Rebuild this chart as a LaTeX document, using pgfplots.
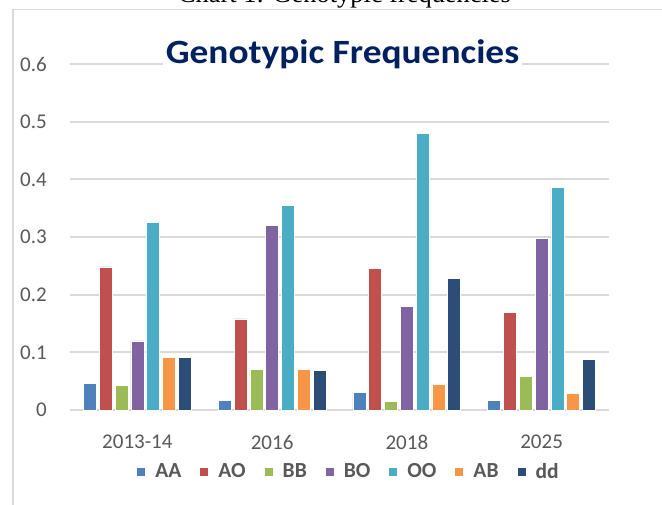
\documentclass[border=0pt]{standalone}
\usepackage{fontspec}
\setmainfont{Carlito}
\newfontfamily\capfont{Liberation Serif}
\usepackage{pgfplots}
\pgfplotsset{compat=1.18}
\definecolor{cAA}{HTML}{4F81BD}
\definecolor{cAO}{HTML}{C0504D}
\definecolor{cBB}{HTML}{9BBB59}
\definecolor{cBO}{HTML}{8064A2}
\definecolor{cOO}{HTML}{4BACC6}
\definecolor{cAB}{HTML}{F79646}
\definecolor{cdd}{HTML}{2C4D75}
\definecolor{gridgray}{HTML}{D9D9D9}
\definecolor{labgray}{HTML}{595959}
\definecolor{titleblue}{HTML}{002060}
\begin{document}
\begin{tikzpicture}[x=1pt,y=1pt]
\useasboundingbox (0,0) rectangle (662,504);
\clip (0,0) rectangle (662,504);
\fill[white] (0,0) rectangle (662,504);
\draw[draw=gridgray, line width=1.5pt] (13,-20) -- (13,494.5) -- (700,494.5);
\node[font=\capfont\fontsize{26.4}{30}\selectfont, anchor=base, inner sep=0pt] at (344.5,501) {Chart 1: Genotypic frequencies};
\begin{axis}[
  at={(70pt,94pt)}, anchor=south west,
  scale only axis, width=539pt, height=346pt,
  ybar=2.8pt, bar width=13pt,
  xmin=-0.5, xmax=3.5, ymin=0, ymax=0.6,
  xtick={0,1,2,3}, xticklabels={2013-14,2016,2018,2025},
  ytick={0,0.1,0.2,0.3,0.4,0.5,0.6},
  yticklabels={0,0.1,0.2,0.3,0.4,0.5,0.6},
  ymajorgrids, major grid style={draw=gridgray, line width=1.8pt},
  axis line style={draw=none}, major tick length=0pt,
  tick label style={font=\fontsize{21}{25}\selectfont, text=labgray, inner sep=0pt},
  yticklabel shift=23pt,
  xticklabel shift=25pt,
  legend columns=7,
  legend style={at={(0.5158,-0.1780)}, anchor=center, draw=none, fill=none,
    inner sep=0pt, font=\bfseries\fontsize{21.5}{25}\selectfont, text=labgray,
    nodes={inner sep=0pt},
    /tikz/every odd column/.append style={column sep=10pt},
    /tikz/every even column/.append style={column sep=19pt}},
  legend image code/.code={\fill[#1,draw=none] (0pt,-4pt) rectangle (8pt,4pt);},
  every axis plot/.append style={draw=white, line width=0.6pt},
]
\addplot[fill=cAA] coordinates {(0,0.046) (1,0.017) (2,0.031) (3,0.017)};
\addplot[fill=cAO] coordinates {(0,0.248) (1,0.158) (2,0.245) (3,0.169)};
\addplot[fill=cBB] coordinates {(0,0.042) (1,0.071) (2,0.015) (3,0.058)};
\addplot[fill=cBO] coordinates {(0,0.120) (1,0.320) (2,0.179) (3,0.298)};
\addplot[fill=cOO] coordinates {(0,0.326) (1,0.355) (2,0.480) (3,0.386)};
\addplot[fill=cAB] coordinates {(0,0.091) (1,0.071) (2,0.045) (3,0.029)};
\addplot[fill=cdd] coordinates {(0,0.091) (1,0.069) (2,0.228) (3,0.088)};
\legend{AA,AO,BB,BO,OO,AB,dd}
\end{axis}
\node[font=\bfseries\fontsize{34}{40}\selectfont, text=titleblue, anchor=base, fill=white, inner sep=3pt, xscale=1.1] at (342.5,440.5) {Genotypic Frequencies};
\end{tikzpicture}
\end{document}
